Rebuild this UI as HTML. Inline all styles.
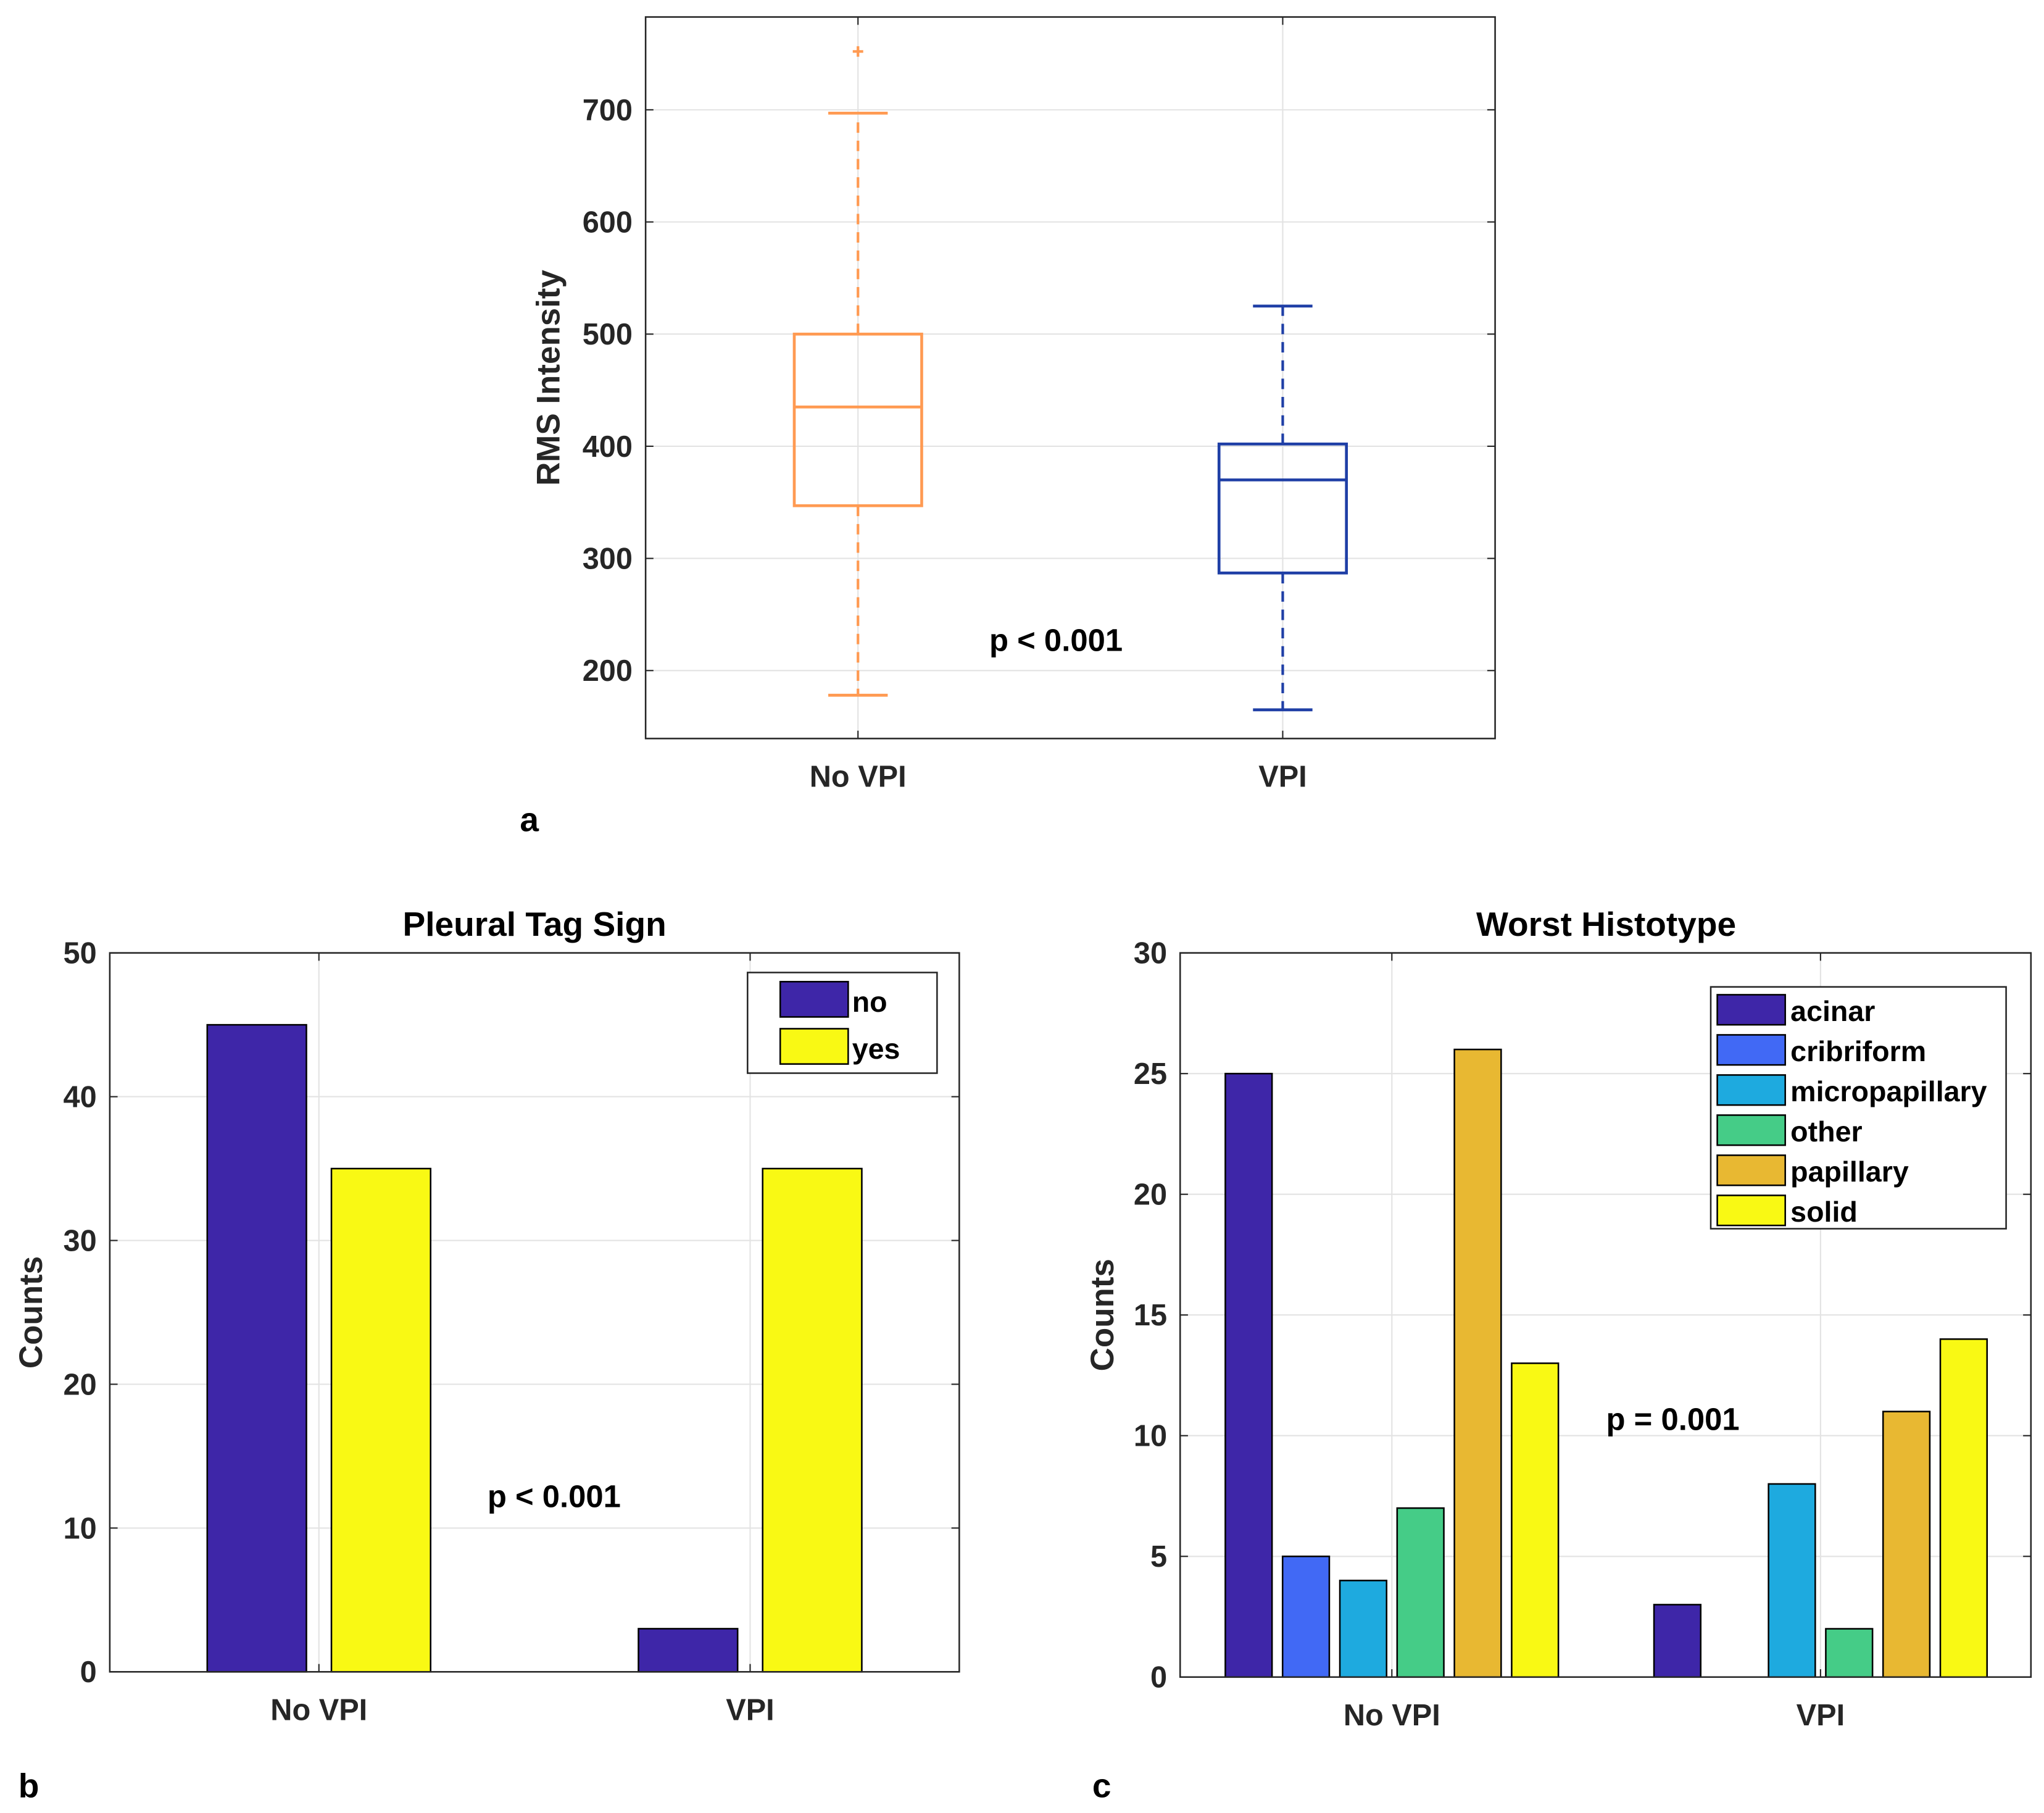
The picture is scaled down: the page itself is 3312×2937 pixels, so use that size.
<!DOCTYPE html>
<html><head><meta charset="utf-8"><style>
html,body{margin:0;padding:0;background:#fff;}
svg{display:block;font-family:"Liberation Sans",Arial,sans-serif;font-weight:bold;}
</style></head><body>
<svg id="fig" width="3312" height="2937" viewBox="0 0 1564 1387" preserveAspectRatio="none" xmlns="http://www.w3.org/2000/svg"></svg>
<script>
// Panel a data
const boxCategories = ["No VPI","VPI"];
const boxLowWhisker = [178, 165];
const boxQ1 = [347, 287];
const boxMedian = [435, 370];
const boxQ3 = [500, 402];
const boxHighWhisker = [697, 525];
const boxOutliers = [[752], []];
const aTicks = [200,300,400,500,600,700];
// Panel b data
const bCategories = ["No VPI","VPI"];
const bSeriesNames = ["no","yes"];
const bNo = [45, 3];
const bYes = [35, 35];
const bTicks = [0,10,20,30,40,50];
// Panel c data
const cCategories = ["No VPI","VPI"];
const cSeriesNames = ["acinar","cribriform","micropapillary","other","papillary","solid"];
const cAcinar = [25, 3];
const cCribriform = [5, 0];
const cMicropapillary = [4, 8];
const cOther = [7, 2];
const cPapillary = [26, 11];
const cSolid = [13, 14];
const cTicks = [0,5,10,15,20,25,30];

const NS="http://www.w3.org/2000/svg";
const svg=document.getElementById('fig');
function el(tag,attrs,parent){const e=document.createElementNS(NS,tag);for(const k in attrs)e.setAttribute(k,attrs[k]);(parent||svg).appendChild(e);return e;}
function txt(s,attrs,parent){const e=el('text',attrs,parent);e.textContent=s;return e;}
function lin(d0,d1,r0,r1){return v=>r0+(v-d0)/(d1-d0)*(r1-r0);}

function axesFrame(g,x0,x1,y0,y1,yTicks,ys,xcats,xs){
  yTicks.forEach(t=>{
    const l=el('line',{x1:x0,x2:x1,y1:ys(t),y2:ys(t),stroke:'#e3e3e3','stroke-width':1},g);
    
  });
  xcats.forEach((c,i)=>{
    const l=el('line',{x1:xs(i+1),x2:xs(i+1),y1:y0,y2:y1,stroke:'#e3e3e3','stroke-width':1},g);
    
  });
}
function axesBorder(g,x0,x1,y0,y1,yTicks,ys,xcats,xs,labelY){
  const r=el('rect',{x:x0,y:y0,width:x1-x0,height:y1-y0,fill:'none',stroke:'#262626','stroke-width':1.2},g);
  
  yTicks.forEach(t=>{
    el('line',{x1:x0,x2:x0+6,y1:ys(t),y2:ys(t),stroke:'#262626'},g);
    el('line',{x1:x1,x2:x1-6,y1:ys(t),y2:ys(t),stroke:'#262626'},g);
    const tl=txt(String(t),{x:x0-10,y:ys(t)+8,'text-anchor':'end','font-size':23,fill:'#262626'},g);
    
  });
  xcats.forEach((c,i)=>{
    el('line',{x1:xs(i+1),x2:xs(i+1),y1:y1,y2:y1-6,stroke:'#262626'},g);
    el('line',{x1:xs(i+1),x2:xs(i+1),y1:y0,y2:y0+6,stroke:'#262626'},g);
    const tl=txt(c,{x:xs(i+1),y:labelY,'text-anchor':'middle','font-size':23,fill:'#262626'},g);
    
  });
}

// ---------- Panel a ----------
(function(){
  const g=el('g',{});
  const x0=494,x1=1144,y0=13,y1=565;
  const ys=lin(200,700,513,84), xs=lin(0.5,2.5,x0,x1);
  axesFrame(g,x0,x1,y0,y1,aTicks,ys,boxCategories,xs);
  const colors=['#ff9a52','#1f3fa6'];
  boxCategories.forEach((c,i)=>{
    const cx=xs(i+1),col=colors[i];
    const bw=xs(1.15)-xs(1), cw=xs(1.07)-xs(1);
    const bg=el('g',{},g);
    el('line',{x1:cx,x2:cx,y1:ys(boxQ3[i]),y2:ys(boxHighWhisker[i]),stroke:col,'stroke-width':2,'stroke-dasharray':'8,6'},bg);
    el('line',{x1:cx,x2:cx,y1:ys(boxQ1[i]),y2:ys(boxLowWhisker[i]),stroke:col,'stroke-width':2,'stroke-dasharray':'8,6'},bg);
    el('line',{x1:cx-cw,x2:cx+cw,y1:ys(boxHighWhisker[i]),y2:ys(boxHighWhisker[i]),stroke:col,'stroke-width':2.2},bg);
    el('line',{x1:cx-cw,x2:cx+cw,y1:ys(boxLowWhisker[i]),y2:ys(boxLowWhisker[i]),stroke:col,'stroke-width':2.2},bg);
    el('rect',{x:cx-bw,y:ys(boxQ3[i]),width:2*bw,height:ys(boxQ1[i])-ys(boxQ3[i]),fill:'none',stroke:col,'stroke-width':2.2},bg);
    el('line',{x1:cx-bw,x2:cx+bw,y1:ys(boxMedian[i]),y2:ys(boxMedian[i]),stroke:col,'stroke-width':2.2},bg);
    boxOutliers[i].forEach(o=>{
      const p=el('path',{d:`M${cx-4},${ys(o)}h8M${cx},${ys(o)-4}v8`,stroke:col,'stroke-width':2},bg);
      
    });
  });
  axesBorder(g,x0,x1,y0,y1,aTicks,ys,boxCategories,xs,602);
  const yl=txt('RMS Intensity',{x:0,y:0,transform:'translate(428,289) rotate(-90)','text-anchor':'middle','font-size':25,fill:'#262626'},g);
  
  const p=txt('p < 0.001',{x:808,y:498,'text-anchor':'middle','font-size':24,fill:'#000'},g);
  
  const lab=txt('a',{x:405,y:636,'text-anchor':'middle','font-size':26,fill:'#000'},g);
  
})();

// ---------- Panel b ----------
(function(){
  const g=el('g',{});
  const x0=84,x1=734,y0=729,y1=1279;
  const ys=lin(0,50,y1,y0), xs=lin(0.515,2.485,x0,x1);
  axesFrame(g,x0,x1,y0,y1,bTicks,ys,bCategories,xs);
  const series=[bNo,bYes], cols=['#3e26a8','#f9f914'];
  series.forEach((s,j)=>{
    s.forEach((v,i)=>{
      const off=(j-0.5)*0.288, w=0.23;
      const r=el('rect',{x:xs(i+1+off-w/2),y:ys(v),width:xs(w)-xs(0),height:ys(0)-ys(v),fill:cols[j],stroke:'#000','stroke-width':1.2},g);
      
      
    });
  });
  axesBorder(g,x0,x1,y0,y1,bTicks,ys,bCategories,xs,1316);
  const t=txt('Pleural Tag Sign',{x:409,y:716,'text-anchor':'middle','font-size':26,fill:'#000'},g);
  
  const yl=txt('Counts',{x:0,y:0,transform:'translate(32,1004) rotate(-90)','text-anchor':'middle','font-size':25,fill:'#262626'},g);
  
  const p=txt('p < 0.001',{x:424,y:1153,'text-anchor':'middle','font-size':24,fill:'#000'},g);
  
  const lg=el('g',{},g);
  el('rect',{x:572,y:744,width:145,height:77,fill:'#fff',stroke:'#262626','stroke-width':1.2},lg);
  bSeriesNames.forEach((n,j)=>{
    const e=el('g',{},lg);
    el('rect',{x:597,y:751+j*36,width:52,height:27,fill:cols[j],stroke:'#000','stroke-width':1.2},e);
    txt(n,{x:652,y:774+j*36,'font-size':22,fill:'#000'},e);
  });
  const lab=txt('b',{x:22,y:1375,'text-anchor':'middle','font-size':26,fill:'#000'},g);
  
})();

// ---------- Panel c ----------
(function(){
  const g=el('g',{});
  const x0=903,x1=1554,y0=729,y1=1283;
  const ys=lin(0,30,y1,y0), xs=lin(1-162/328,2+161/328,x0,x1);
  axesFrame(g,x0,x1,y0,y1,cTicks,ys,cCategories,xs);
  const series=[cAcinar,cCribriform,cMicropapillary,cOther,cPapillary,cSolid];
  const cols=['#3e26a8','#4169f5','#1eaadf','#45cc87','#e8b832','#f9f914'];
  series.forEach((s,j)=>{
    s.forEach((v,i)=>{
      if(v<=0) return;
      const off=(j-2.5)*0.1336, w=0.109;
      const r=el('rect',{x:xs(i+1+off-w/2),y:ys(v),width:xs(w)-xs(0),height:ys(0)-ys(v),fill:cols[j],stroke:'#000','stroke-width':1.2},g);
      
      
    });
  });
  axesBorder(g,x0,x1,y0,y1,cTicks,ys,cCategories,xs,1320);
  const t=txt('Worst Histotype',{x:1229,y:716,'text-anchor':'middle','font-size':26,fill:'#000'},g);
  
  const yl=txt('Counts',{x:0,y:0,transform:'translate(852,1006) rotate(-90)','text-anchor':'middle','font-size':25,fill:'#262626'},g);
  
  const p=txt('p = 0.001',{x:1280,y:1094,'text-anchor':'middle','font-size':24,fill:'#000'},g);
  
  const lg=el('g',{},g);
  el('rect',{x:1309,y:755,width:226,height:185,fill:'#fff',stroke:'#262626','stroke-width':1.2},lg);
  cSeriesNames.forEach((n,j)=>{
    const e=el('g',{},lg);
    el('rect',{x:1314,y:761+j*30.7,width:52,height:23,fill:cols[j],stroke:'#000','stroke-width':1.2},e);
    txt(n,{x:1370,y:781+j*30.7,'font-size':22,fill:'#000'},e);
  });
  const lab=txt('c',{x:843,y:1375,'text-anchor':'middle','font-size':26,fill:'#000'},g);
  
})();
</script>
</body></html>
